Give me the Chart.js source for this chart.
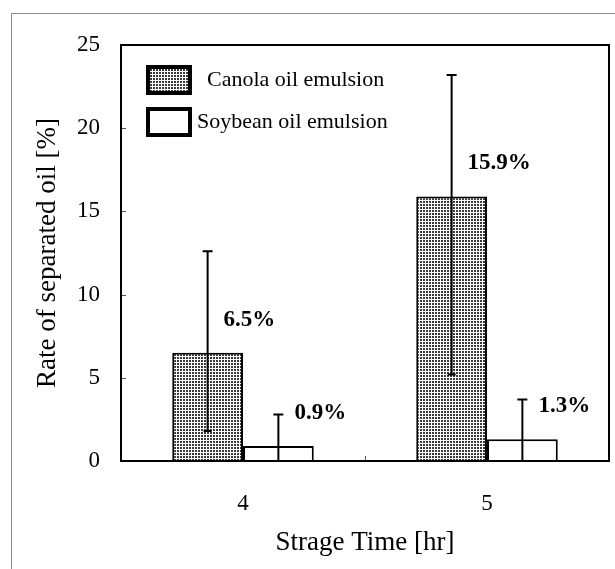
<!DOCTYPE html>
<html>
<head>
<meta charset="utf-8">
<script src="https://cdn.jsdelivr.net/npm/chart.js@4/dist/chart.umd.min.js"></script>
<style>
  body { margin: 0; background: #fff; }
  #wrap { width: 615px; height: 569px; }
</style>
</head>
<body>
<div id="wrap"><canvas id="myCanvas" width="615" height="569"></canvas></div>
<script>
// data
var times = ["4", "5"];
var canola = [6.5, 15.9];
var canolaLow = [1.8, 5.2];
var canolaHigh = [12.6, 23.2];
var soybean = [0.9, 1.3];
var soybeanLow = [-1.0, -1.1];
var soybeanHigh = [2.8, 3.7];
var yTicks = [0, 5, 10, 15, 20, 25];

var serif = "'Liberation Serif', 'Times New Roman', serif";

// stipple fill like the printed figure
function dotPattern() {
    var c = document.createElement("canvas");
    c.width = 3; c.height = 3;
    var g = c.getContext("2d");
    g.fillStyle = "#fff";
    g.fillRect(0, 0, 3, 3);
    g.fillStyle = "#3a3a3a";
    g.fillRect(0, 0, 2, 2);
    return g.createPattern(c, "repeat");
}
var dots = dotPattern();

var errors = [
    {low: canolaLow, high: canolaHigh},
    {low: soybeanLow, high: soybeanHigh}
];

var decor = {
    id: "decor",
    beforeDraw: function (chart) {
        var ctx = chart.ctx;
        ctx.save();
        ctx.strokeStyle = "#8a8a8a";
        ctx.lineWidth = 1;
        ctx.strokeRect(11.5, 13.5, 700, 700);
        ctx.restore();
    },
    afterDatasetsDraw: function (chart) {
        var ctx = chart.ctx;
        var a = chart.chartArea;
        var y = chart.scales.y;
        var x = chart.scales.x;
        ctx.save();
        // error bars
        ctx.strokeStyle = "#000";
        ctx.lineWidth = 2;
        chart.data.datasets.forEach(function (ds, i) {
            chart.getDatasetMeta(i).data.forEach(function (bar, j) {
                var hi = y.getPixelForValue(errors[i].high[j]);
                var loV = Math.max(errors[i].low[j], 0);
                var lo = y.getPixelForValue(loV);
                ctx.beginPath();
                ctx.moveTo(bar.x, hi);
                ctx.lineTo(bar.x, lo);
                ctx.moveTo(bar.x - 5, hi);
                ctx.lineTo(bar.x + 5, hi);
                if (errors[i].low[j] > 0) {
                    ctx.moveTo(bar.x - 4, lo);
                    ctx.lineTo(bar.x + 4, lo);
                }
                ctx.stroke();
                // value label
                ctx.fillStyle = "#000";
                ctx.font = "bold 23px " + serif;
                ctx.textAlign = "left";
                ctx.textBaseline = "middle";
                ctx.fillText(ds.data[j].toFixed(1) + "%", bar.x + 16, y.getPixelForValue(ds.data[j]) - 33);
            });
        });
        // small inward ticks
        ctx.lineWidth = 1;
        ctx.strokeStyle = "#555";
        yTicks.slice(1, -1).forEach(function (v) {
            var py = Math.round(y.getPixelForValue(v)) + 0.5;
            ctx.beginPath();
            ctx.moveTo(a.left, py);
            ctx.lineTo(a.left + 5, py);
            ctx.stroke();
        });
        var mid = Math.round((x.getPixelForValue(0) + x.getPixelForValue(1)) / 2) + 0.5;
        ctx.beginPath();
        ctx.moveTo(mid, a.bottom);
        ctx.lineTo(mid, a.bottom - 5);
        ctx.stroke();
        // plot frame
        ctx.strokeStyle = "#000";
        ctx.lineWidth = 2;
        ctx.strokeRect(a.left, a.top, a.right - a.left, a.bottom - a.top);
        // legend
        var items = [
            {top: 65, textX: 207},
            {top: 107, textX: 197}
        ];
        chart.data.datasets.forEach(function (ds, i) {
            var it = items[i];
            ctx.fillStyle = ds.backgroundColor;
            ctx.fillRect(146, it.top, 46, 30);
            ctx.lineWidth = 4;
            ctx.strokeStyle = "#000";
            ctx.strokeRect(148, it.top + 2, 42, 26);
            ctx.fillStyle = "#000";
            ctx.font = "22px " + serif;
            ctx.textAlign = "left";
            ctx.textBaseline = "middle";
            ctx.fillText(ds.label, it.textX, it.top + 15);
        });
        ctx.restore();
    }
};

new Chart(document.getElementById("myCanvas"), {
    type: "bar",
    data: {
        labels: times,
        datasets: [
            {
                label: "Canola oil emulsion",
                data: canola,
                backgroundColor: dots,
                borderColor: "#000",
                borderWidth: 2
            },
            {
                label: "Soybean oil emulsion",
                data: soybean,
                backgroundColor: "#fff",
                borderColor: "#000",
                borderWidth: 2
            }
        ]
    },
    options: {
        responsive: false,
        devicePixelRatio: 1,
        animation: false,
        layout: {padding: {top: 45, right: 6, left: 0, bottom: 0}},
        datasets: {bar: {categoryPercentage: 0.58, barPercentage: 1.0}},
        plugins: {
            legend: {display: false},
            tooltip: {enabled: false}
        },
        scales: {
            x: {
                grid: {display: false, drawTicks: false},
                border: {display: false},
                ticks: {color: "#000", padding: 29, font: {family: serif, size: 23}},
                title: {
                    display: true,
                    text: "Strage Time [hr]",
                    color: "#000",
                    padding: 10,
                    font: {family: serif, size: 27}
                },
                afterFit: function (s) { s.height = 108; }
            },
            y: {
                min: 0,
                max: 25,
                afterBuildTicks: function (s) {
                    s.ticks = yTicks.map(function (v) { return {value: v}; });
                },
                grid: {display: false, drawTicks: false},
                border: {display: false},
                ticks: {color: "#000", padding: 21, font: {family: serif, size: 23}},
                title: {
                    display: true,
                    text: "Rate of separated oil [%]",
                    color: "#000",
                    padding: 32,
                    font: {family: serif, size: 27}
                },
                afterFit: function (s) { s.width = 121; }
            }
        }
    },
    plugins: [decor]
});
</script>
</body>
</html>
